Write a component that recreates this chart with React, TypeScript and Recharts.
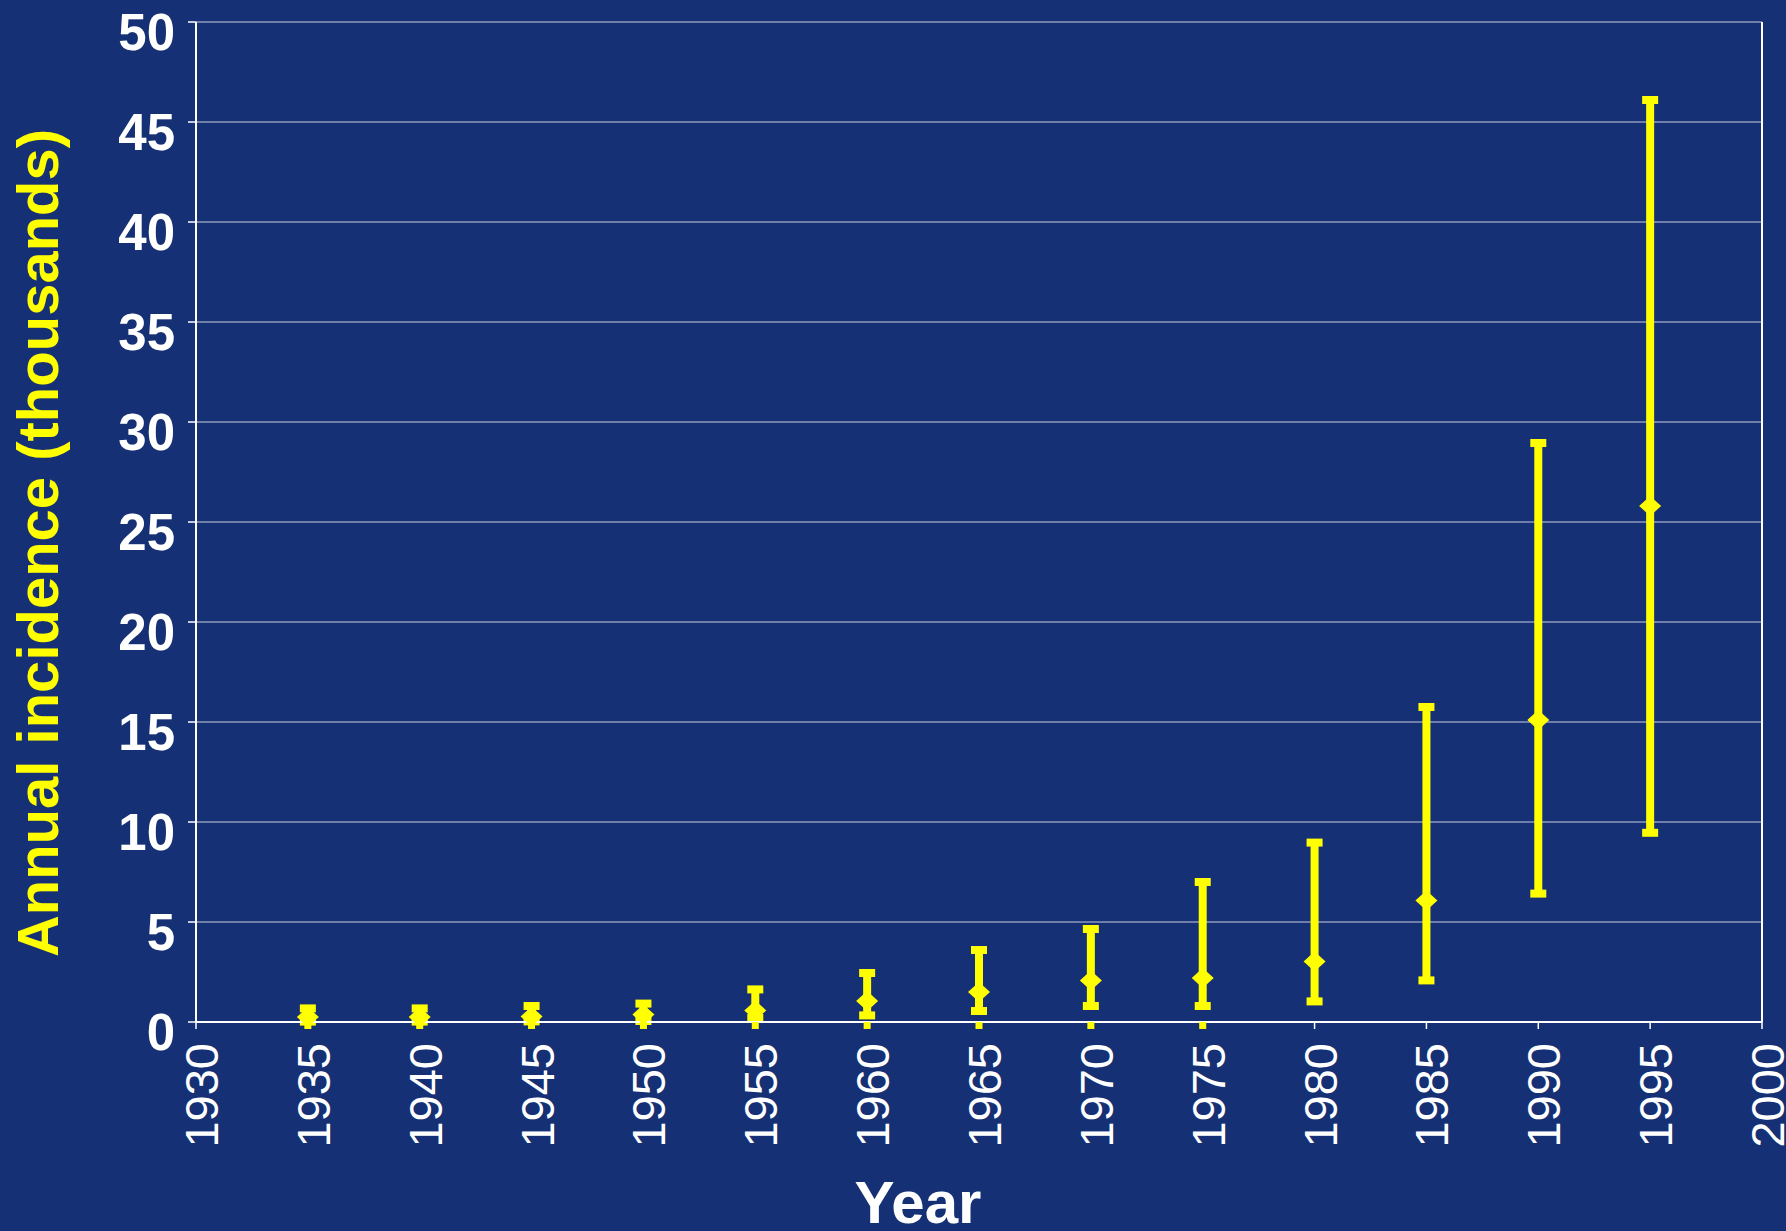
import React from 'react';
import {
  ScatterChart,
  Scatter,
  XAxis,
  YAxis,
  CartesianGrid,
  ErrorBar,
  ReferenceLine,
  Label,
} from 'recharts';

const years = [1935, 1940, 1945, 1950, 1955, 1960, 1965, 1970, 1975, 1980, 1985, 1990, 1995];
const meanValues = [0.25, 0.25, 0.28, 0.37, 0.58, 1.05, 1.5, 2.08, 2.2, 3.03, 6.08, 15.1, 25.8];
const upperValues = [0.68, 0.68, 0.8, 0.92, 1.63, 2.45, 3.6, 4.65, 7.0, 8.97, 15.75, 28.95, 46.1];
const lowerValues = [0.02, 0.02, 0.03, 0.05, 0.2, 0.33, 0.55, 0.8, 0.8, 1.03, 2.08, 6.42, 9.46];
const yTicks = [0, 5, 10, 15, 20, 25, 30, 35, 40, 45, 50];
const xTicks = [1930, 1935, 1940, 1945, 1950, 1955, 1960, 1965, 1970, 1975, 1980, 1985, 1990, 1995, 2000];

const BG = '#153074';
const YELLOW = '#ffff00';
const FONT = '"Liberation Sans", Arial, Helvetica, sans-serif';

const data = years.map((year, i) => ({
  year,
  value: meanValues[i],
  err: [meanValues[i] - lowerValues[i], upperValues[i] - meanValues[i]],
}));

function XTick({ x, y, payload }: any) {
  const year = payload.value;
  // the original has thick yellow stubs under the axis for the early years
  const yellow = year > 1930 && year <= 1975;
  return (
    <g>
      {yellow ? (
        <rect x={x - 3.5} y={y} width={7} height={7} fill={YELLOW} />
      ) : (
        <line x1={x} x2={x} y1={y} y2={y + 7} stroke="#fff" strokeWidth={1.5} />
      )}
      <text
        transform={`rotate(-90, ${x + 22}, ${y + 21})`}
        x={x + 22}
        y={y + 21}
        textAnchor="end"
        fill="#fff"
        fontSize={47}
        fontFamily={FONT}
      >
        {year}
      </text>
    </g>
  );
}

function YTick({ x, y, payload }: any) {
  return (
    <g>
      <line x1={x - 8} x2={x} y1={y} y2={y} stroke="#fff" strokeWidth={1.5} />
      <text
        x={x - 21}
        y={y + 27.5}
        textAnchor="end"
        fill="#fff"
        fontSize={51}
        fontWeight="bold"
        fontFamily={FONT}
      >
        {payload.value}
      </text>
    </g>
  );
}

function Diamond({ cx, cy }: any) {
  return (
    <polygon
      points={`${cx},${cy - 10} ${cx + 11},${cy} ${cx},${cy + 10} ${cx - 11},${cy}`}
      fill={YELLOW}
    />
  );
}

export default function App() {
  return (
    <div style={{ width: 1786, height: 1231, background: BG }}>
      <style>{'body{margin:0}'}</style>
      <ScatterChart
        width={1786}
        height={1231}
        margin={{ top: 22, right: 24, bottom: 0, left: 0 }}
      >
        <CartesianGrid vertical={false} stroke="#c9cde0" strokeWidth={1} />
        <XAxis
          dataKey="year"
          type="number"
          domain={[1930, 2000]}
          ticks={xTicks}
          interval={0}
          height={209}
          tickSize={0}
          tickMargin={0}
          tickLine={false}
          tick={<XTick />}
          axisLine={{ stroke: '#fff', strokeWidth: 2 }}
        >
          <Label
            content={() => (
              <text
                x={918}
                y={1223}
                textAnchor="middle"
                fill="#fff"
                fontSize={60}
                fontWeight="bold"
                fontFamily={FONT}
              >
                Year
              </text>
            )}
          />
        </XAxis>
        <YAxis
          dataKey="value"
          type="number"
          domain={[0, 50]}
          ticks={yTicks}
          interval={0}
          width={196}
          tickSize={0}
          tickMargin={0}
          tickLine={false}
          tick={<YTick />}
          axisLine={{ stroke: '#fff', strokeWidth: 2 }}
        >
          <Label
            content={() => (
              <text
                transform="rotate(-90, 58, 543)"
                x={58}
                y={543}
                textAnchor="middle"
                fill={YELLOW}
                fontSize={58}
                fontWeight="bold"
                fontFamily={FONT}
              >
                Annual incidence (thousands)
              </text>
            )}
          />
        </YAxis>
        <ReferenceLine x={2000} stroke="#fff" strokeWidth={2} />
        <Scatter data={data} dataKey="value" shape={<Diamond />} isAnimationActive={false}>
          <ErrorBar
            dataKey="err"
            direction="y"
            width={8}
            strokeWidth={8}
            stroke={YELLOW}
            isAnimationActive={false}
          />
        </Scatter>
      </ScatterChart>
    </div>
  );
}
